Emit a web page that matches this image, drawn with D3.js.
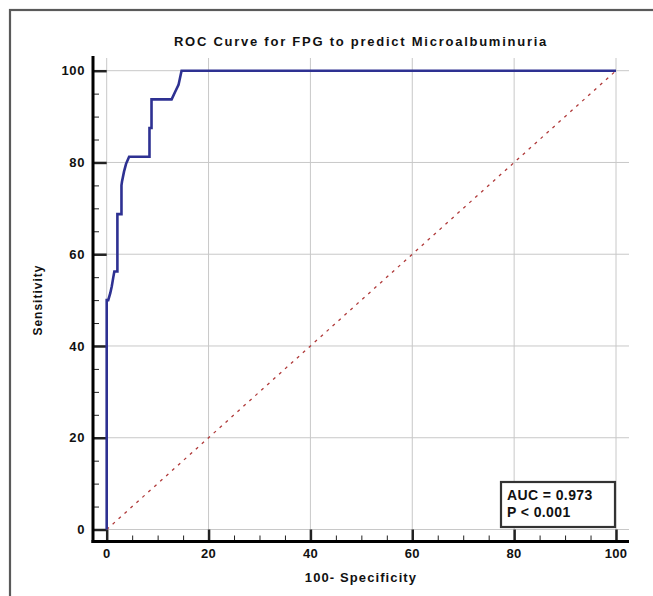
<!DOCTYPE html>
<html><head><meta charset="utf-8">
<script src="https://cdn.jsdelivr.net/npm/d3@7"></script>
<style>
html,body{margin:0;padding:0;background:#fff;}
svg text{font-family:"Liberation Sans",Arial,sans-serif;font-weight:bold;fill:#111;}
</style></head>
<body>
<script>
// ROC curve points (100-Specificity, Sensitivity)
const fpr = [0, 0, 0.3, 0.7, 1.0, 1.3, 1.5, 2.1, 2.1, 2.9, 2.9, 3.0, 3.4, 3.8, 4.4, 8.4, 8.4, 8.8, 8.8, 12.75, 13.4, 14.1, 14.7, 100];
const tpr = [0, 50, 50, 51.5, 53, 55, 56.25, 56.25, 68.75, 68.75, 75, 75.8, 78, 79.7, 81.25, 81.25, 87.5, 87.5, 93.75, 93.75, 95.3, 96.9, 100, 100];
const diagX = [0, 100];
const diagY = [0, 100];
const majorTicks = [0, 20, 40, 60, 80, 100];
const minorTicks = [5,10,15,25,30,35,45,50,55,65,70,75,85,90,95];
const titleText = "ROC Curve for FPG to predict Microalbuminuria";
const xLabel = "100- Specificity";
const yLabel = "Sensitivity";
const statLines = ["AUC = 0.973", "P < 0.001"];

const W = 653, H = 596;
const svg = d3.select("body").append("svg").attr("width", W).attr("height", H);

// outer frame
svg.append("rect").attr("x", 10).attr("y", 10).attr("width", 800).attr("height", 800)
  .attr("fill", "#fff").attr("stroke", "#5a5a5a").attr("stroke-width", 2.2);

const x = d3.scaleLinear().domain([0, 100]).range([106.7, 616]);
const y = d3.scaleLinear().domain([0, 100]).range([529.5, 70.7]);
const frameL = 93, frameR = 629, frameT = 58, frameB = 541.5;

// gridlines
const g = svg.append("g");
g.selectAll(".vg").data(majorTicks).join("line")
  .attr("x1", d => x(d)).attr("x2", d => x(d)).attr("y1", frameT).attr("y2", frameB)
  .attr("stroke", "#c8c8c8").attr("stroke-width", 1);
g.selectAll(".hg").data(majorTicks).join("line")
  .attr("y1", d => y(d)).attr("y2", d => y(d)).attr("x1", frameL).attr("x2", frameR)
  .attr("stroke", "#c8c8c8").attr("stroke-width", 1);

// axes
const yAxisMajor = d3.axisRight(y).tickValues(majorTicks).tickSize(x(0) - frameL).tickFormat("");
const yAxisMinor = d3.axisRight(y).tickValues(minorTicks).tickSize(6).tickFormat("");
const xAxisMajor = d3.axisTop(x).tickValues(majorTicks).tickSize(frameB - y(0)).tickFormat("");
const xAxisMinor = d3.axisTop(x).tickValues(minorTicks).tickSize(6).tickFormat("");

function styleAxis(sel, w) {
  sel.select(".domain").remove();
  sel.selectAll("line").attr("stroke", "#222").attr("stroke-width", w);
}
svg.append("g").attr("transform", `translate(${frameL},0)`).call(yAxisMajor).call(s => styleAxis(s, 2.5));
svg.append("g").attr("transform", `translate(${frameL},0)`).call(yAxisMinor).call(s => styleAxis(s, 1));
svg.append("g").attr("transform", `translate(0,${frameB})`).call(xAxisMajor).call(s => styleAxis(s, 2.5));
svg.append("g").attr("transform", `translate(0,${frameB})`).call(xAxisMinor).call(s => styleAxis(s, 1));

// axis lines
svg.append("line").attr("x1", frameL).attr("x2", frameL).attr("y1", frameT - 2).attr("y2", frameB + 1.5)
  .attr("stroke", "#000").attr("stroke-width", 3);
svg.append("line").attr("x1", frameL - 1.5).attr("x2", frameR).attr("y1", frameB).attr("y2", frameB)
  .attr("stroke", "#000").attr("stroke-width", 3);

// tick labels
svg.selectAll(".yl").data(majorTicks).join("text")
  .attr("x", 85).attr("y", d => y(d)).attr("dy", "0.35em").attr("text-anchor", "end")
  .attr("font-size", 13).attr("letter-spacing", 0.6).text(d => d);
svg.selectAll(".xl").data(majorTicks).join("text")
  .attr("x", d => x(d)).attr("y", 558).attr("text-anchor", "middle")
  .attr("font-size", 13).attr("letter-spacing", 0.3).text(d => d);

// diagonal
const line = d3.line().x(d => x(d[0])).y(d => y(d[1]));
svg.append("path").datum(diagX.map((d, i) => [d, diagY[i]])).attr("d", line)
  .attr("fill", "none").attr("stroke", "#b03a3a").attr("stroke-width", 1.3).attr("stroke-dasharray", "3,5");

// ROC curve
svg.append("path").datum(fpr.map((d, i) => [d, tpr[i]])).attr("d", line)
  .attr("fill", "none").attr("stroke", "#2e3192").attr("stroke-width", 2.6).attr("stroke-linejoin", "miter");

// title & labels
svg.append("text").attr("x", 361).attr("y", 46).attr("text-anchor", "middle")
  .attr("font-size", 13).attr("letter-spacing", 1.75).text(titleText);
svg.append("text").attr("x", 361).attr("y", 582).attr("text-anchor", "middle")
  .attr("font-size", 13).attr("letter-spacing", 1.1).text(xLabel);
svg.append("text").attr("transform", `translate(42,${y(50)}) rotate(-90)`).attr("text-anchor", "middle")
  .attr("font-size", 12).attr("letter-spacing", 1).text(yLabel);

// AUC box
svg.append("rect").attr("x", 501).attr("y", 482).attr("width", 114).attr("height", 45)
  .attr("fill", "#fff").attr("stroke", "#333").attr("stroke-width", 2.2);
svg.selectAll(".st").data(statLines).join("text")
  .attr("x", 507).attr("y", (d, i) => 500 + i * 17).attr("font-size", 14).attr("letter-spacing", 0.4).text(d => d);
</script>
</body></html>
